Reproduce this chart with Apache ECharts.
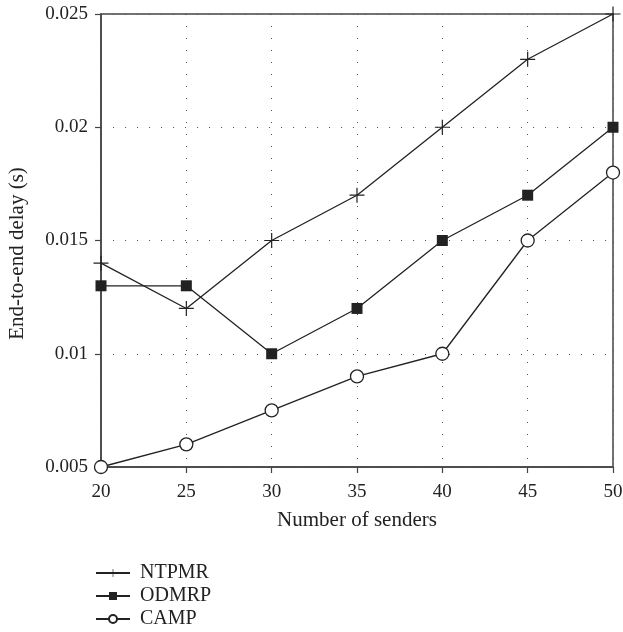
<!DOCTYPE html>
<html>
<head>
<meta charset="utf-8">
<script src="https://cdn.jsdelivr.net/npm/echarts@6/dist/echarts.min.js"></script>
<style>
  html, body { margin: 0; padding: 0; background: #fff; }
  #main { width: 623px; height: 632px; }
</style>
</head>
<body>
<div id="main"></div>
<script>
// values
var senders = [20, 25, 30, 35, 40, 45, 50];
var ntpmr = [0.014, 0.012, 0.015, 0.017, 0.020, 0.023, 0.025];
var odmrp = [0.013, 0.013, 0.010, 0.012, 0.015, 0.017, 0.020];
var camp = [0.005, 0.006, 0.0075, 0.009, 0.010, 0.015, 0.018];
var seriesNames = ['NTPMR', 'ODMRP', 'CAMP'];

var plusIcon = 'path://M4.6,0h0.8v4.6h4.6v0.8h-4.6v4.6h-0.8v-4.6h-4.6v-0.8h4.6z';
var ink = '#222';
var font = 'Liberation Serif';

function pairs(ys) {
  return senders.map(function (x, i) { return [x, ys[i]]; });
}

// one legend per row so they stack without wrapping
function legendRow(name, i) {
  return {
    orient: 'vertical',
    left: 95, top: 563 + i * 23,
    padding: 0,
    itemWidth: 34, itemHeight: 10,
    textStyle: { fontFamily: font, fontSize: 20, color: ink, padding: [0, 0, 0, 5] },
    data: [name]
  };
}

var myChart = echarts.init(document.getElementById('main'));

var option = {
  animation: false,
  textStyle: { fontFamily: font, color: ink },
  grid: {
    left: 101, right: 10, top: 14, bottom: 165,
    outerBoundsMode: 'none',
    show: true, borderColor: '#444', borderWidth: 1.5
  },
  legend: seriesNames.map(legendRow),
  xAxis: {
    type: 'value',
    min: 20, max: 50, interval: 5,
    name: 'Number of senders',
    nameLocation: 'middle', nameGap: 43,
    nameTextStyle: { fontFamily: font, fontSize: 21, color: ink },
    axisLine: { lineStyle: { color: '#444', width: 1.5 } },
    axisTick: { show: true, length: 6, lineStyle: { color: '#444', width: 1.2 } },
    axisLabel: { fontSize: 19, color: ink, margin: 16 },
    splitLine: { show: true, lineStyle: { color: '#555', width: 1, type: [1, 11] } }
  },
  yAxis: {
    type: 'value',
    min: 0.005, max: 0.025, interval: 0.005,
    name: 'End-to-end delay (s)',
    nameLocation: 'middle', nameGap: 73,
    nameTextStyle: { fontFamily: font, fontSize: 21, color: ink, padding: [0, 26, 0, 0] },
    axisLine: { show: true, lineStyle: { color: '#444', width: 1.5 } },
    axisTick: { show: true, length: 6, lineStyle: { color: '#444', width: 1.2 } },
    axisLabel: {
      fontSize: 19, color: ink, margin: 13,
      formatter: function (v) { return String(+v.toFixed(4)); }
    },
    splitLine: { show: true, lineStyle: { color: '#555', width: 1, type: [1, 11] } }
  },
  series: [
    {
      name: seriesNames[0], type: 'line', data: pairs(ntpmr),
      symbol: plusIcon, symbolSize: 15,
      lineStyle: { color: ink, width: 1.3 },
      itemStyle: { color: ink }
    },
    {
      name: seriesNames[1], type: 'line', data: pairs(odmrp),
      symbol: 'rect', symbolSize: 11,
      lineStyle: { color: ink, width: 1.3 },
      itemStyle: { color: ink }
    },
    {
      name: seriesNames[2], type: 'line', data: pairs(camp),
      symbol: 'circle', symbolSize: 13,
      lineStyle: { color: ink, width: 1.3 },
      itemStyle: { color: '#fff', borderColor: ink, borderWidth: 1.3 }
    }
  ]
};
myChart.setOption(option);
</script>
</body>
</html>
